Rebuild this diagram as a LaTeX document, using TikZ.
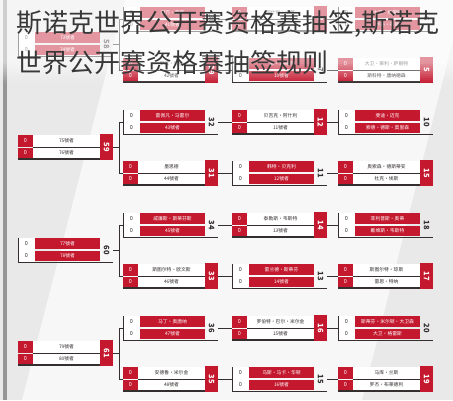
\documentclass[tikz,border=0pt]{standalone}
\usepackage{fontspec}
\newfontfamily\cjk{Noto Sans CJK SC}
\definecolor{rd}{RGB}{196,24,46}
\definecolor{dk}{RGB}{52,46,46}
\definecolor{bgc}{RGB}{233,233,233}
\definecolor{bgl}{RGB}{247,247,247}
\definecolor{barc}{RGB}{150,150,150}
\tikzset{
  bx/.style={rectangle, minimum width=95pt, minimum height=26pt, inner sep=0pt, draw=none},
  numw/.style={font=\cjk\fontsize{5.5}{5.5}\selectfont, text=white, inner sep=0pt},
  numd/.style={font=\cjk\fontsize{5.5}{5.5}\selectfont, text=dk, inner sep=0pt},
  nmw/.style={font=\cjk\fontsize{4.8}{5}\selectfont, text=white, inner sep=0pt},
  nmd/.style={font=\cjk\fontsize{4.8}{5}\selectfont, text=dk, inner sep=0pt},
  lblw/.style={font=\cjk\bfseries\fontsize{7.5}{7.5}\selectfont, text=white, inner sep=0pt, rotate=-90},
  lbld/.style={font=\cjk\bfseries\fontsize{7.5}{7.5}\selectfont, text=dk, inner sep=0pt, rotate=-90},
  conn/.style={draw=dk, line width=0.9pt},
  ttl/.style={font=\cjk\fontsize{26}{26}\selectfont, inner sep=0pt, anchor=base west, text=black!78},
}
% type A: red number cells, white name cells, red badge
\newcommand\bxA[6]{%
  \begin{scope}[shift={(#2,#3)}]
    \fill[dk] (0,10.5) rectangle (95,12.6);
    \fill[rd] (0,-12) rectangle (15,-0.5);
    \fill[rd] (0,0.5) rectangle (15,11);
    \fill[white] (15,-12) rectangle (82,11);
    \draw[dk, line width=0.6pt] (15,0) -- (82,0);
    \fill[rd] (82,-13) rectangle (95,12.6);
    \node[numw] (#1n1) at (7.5,-6) {0};
    \node[numw] (#1n2) at (7.5,6) {0};
    \node[nmd] (#1p1) at (48.5,-6) {#4};
    \node[nmd] (#1p2) at (48.5,6) {#5};
    \node[lblw] (#1l) at (88.5,0) {#6};
  \end{scope}
  \node[bx] (#1) at (#2+47.5,#3) {};
}
% type B: white number cells, red name cells, bracket line, outside label
\newcommand\bxB[6]{%
  \begin{scope}[shift={(#2,#3)}]
    \fill[white] (0.5,-12) rectangle (17,12);
    \fill[rd] (17,-12) rectangle (82,-0.6);
    \fill[rd] (17,0.6) rectangle (82,11);
    \draw[dk, line width=0.9pt] (0.5,-12) -- (0.5,12) -- (95,12);
    \node[numd] (#1n1) at (8.5,-6) {0};
    \node[numd] (#1n2) at (8.5,6) {0};
    \node[nmw] (#1p1) at (49.5,-6) {#4};
    \node[nmw] (#1p2) at (49.5,6) {#5};
    \node[lbld] (#1l) at (88.5,0) {#6};
  \end{scope}
  \node[bx] (#1) at (#2+47.5,#3) {};
}
\begin{document}
\begin{tikzpicture}[x=1pt,y=-1pt]
\useasboundingbox (0,0) rectangle (453,400);
% background
\fill[bgc] (0,0) rectangle (453,400);
\fill[bgl] (125,0) -- (453,0) -- (453,40) -- (362,400) -- (22,400) -- cycle;
\fill[barc] (3,0) rectangle (7,400);

% ---------- section 0 ----------
\bxB{la}{18}{44}{73號者}{74號者}{58}
\bxB{ma}{123}{19}{伊万·普罗}{41號者}{30}
\bxA{mb}{123}{70}{罗宾·赫尔}{42號者}{29}
\bxA{ra}{232}{19}{阿什利·卡蒂}{9號者}{8}
\bxB{rb}{232}{70}{本·马腾斯}{10號者}{7}
\bxB{xa}{338}{19}{大卫·格雷斯}{乔丹·布朗}{6}
\bxA{xb}{338}{70}{大卫·莱利·萨根特}{斯科特·唐纳德森}{5}
% ---------- section 1 ----------
\bxA{lb}{18}{147}{75號者}{76號者}{59}
\bxB{mc}{123}{122}{雷佩凡·马雷尔}{43號者}{32}
\bxA{md}{123}{173}{墨思德}{44號者}{31}
\bxA{rc}{232}{122}{贝吉克·阿什利}{11號者}{12}
\bxB{rd}{232}{173}{韩特·贝克利}{12號者}{11}
\bxB{xc}{338}{122}{斐迪·迈克}{索德·德斯·莫里森}{10}
\bxA{xd}{338}{173}{奥索森·德斯蒂安}{杜克·埃斯}{15}
% ---------- section 2 ----------
\bxB{lc}{18}{250}{77號者}{78號者}{60}
\bxB{me}{123}{225}{威廉斯·斯蒂芬斯}{45號者}{34}
\bxA{mf}{123}{276}{斯图尔特·欧文斯}{46號者}{33}
\bxA{re}{232}{225}{泰勒斯·韦斯特}{13號者}{14}
\bxB{rf}{232}{276}{雷兰德·斯蒂芬}{14號者}{13}
\bxB{xe}{338}{225}{菲利普斯·奥蒂}{戴维斯·韦斯特}{18}
\bxA{xf}{338}{276}{斯图尔特·琼斯}{雷恩·特纳}{17}
% ---------- section 3 ----------
\bxA{ld}{18}{353}{79號者}{80號者}{61}
\bxB{mg}{123}{328}{马丁·奥唐纳}{47號者}{36}
\bxA{mh}{123}{379}{安德鲁·米尔金}{48號者}{35}
\bxA{rg}{232}{328}{罗伯特·巴尔·米尔金}{15號者}{16}
\bxB{rh}{232}{379}{乌斯·马卡·华顿}{16號者}{15}
\bxB{xg}{338}{328}{斯蒂芬·米尔顿·大卫森}{大卫·格雷斯}{20}
\bxA{xh}{338}{379}{马库·兰斯}{罗杰·布莱德利}{19}

% ---------- connectors ----------
\foreach \L/\A/\B/\RA/\RB/\XA/\XB/\J in {la/ma/mb/ra/rb/xa/xb/ja, lb/mc/md/rc/rd/xc/xd/jb, lc/me/mf/re/rf/xe/xf/jc, ld/mg/mh/rg/rh/xg/xh/jd}{
  \draw[conn] (\L.east) -- ++(6,0) coordinate (\J);
  \draw[conn] (\J) |- (\A.west);
  \draw[conn] (\J) |- (\B.west);
  \draw[conn] (\A.east) -- (\RA.west);
  \draw[conn] (\B.east) -- (\RB.west);
  \draw[conn] (\RA.east) -- (\XA.west);
  \draw[conn] (\RB.east) -- (\XB.west);
}

% ---------- fade overlay ----------
\fill[white, opacity=0.55] (0,0) rectangle (453,62);
\foreach \i in {0,...,10}{
  \pgfmathsetmacro\op{0.55*(1-(\i+0.5)/11)}
  \fill[white, opacity=\op] (0,62+2*\i) rectangle (453,64+2*\i);
}

% ---------- title ----------
\node[ttl] (t1) at (16,32) {斯诺克世界公开赛资格赛抽签,斯诺克};
\node[ttl] (t2) at (16,72) {世界公开赛资格赛抽签规则};
\end{tikzpicture}
\end{document}
